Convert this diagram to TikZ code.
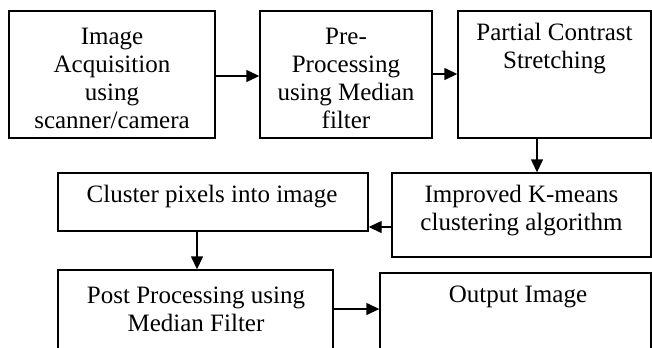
\documentclass[tikz,border=0pt]{standalone}
\usepackage{fontspec}
\setmainfont{Liberation Serif}
\usetikzlibrary{arrows.meta}
\begin{document}
\begin{tikzpicture}[x=1bp,y=-1bp,
  box/.style={draw=black,line width=1.4bp,inner sep=0pt,align=center,
    font=\fontsize{25bp}{28bp}\selectfont},
  txt/.style={inner sep=0pt,align=center,font=\fontsize{25bp}{28bp}\selectfont},
  arr/.style={line width=1.4bp,-{Triangle[length=13bp,width=12bp]}}]
\useasboundingbox (0,0) rectangle (652,347);
\clip (0,0) rectangle (652,347);
\node[box,minimum width=206bp,minimum height=127bp] (b1) at (112,74.5) {};
\node[txt] (t1) at (112,78.5) {Image\\Acquisition\\using\\scanner/camera};
\node[box,minimum width=172bp,minimum height=127bp] (b2) at (346,74.5) {};
\node[txt] (t2) at (346,78.5) {Pre-\\Processing\\using Median\\filter};
\node[box,minimum width=193bp,minimum height=127bp] (b3) at (554.5,74.5) {};
\node[txt] (t3) at (554.5,49) {Partial Contrast\\Stretching};
\node[box,minimum width=259bp,minimum height=84bp] (b4) at (521.5,215) {};
\node[txt] (t4) at (521.5,211) {Improved K-means\\clustering algorithm};
\node[box,minimum width=310bp,minimum height=58bp] (b5) at (213,202) {};
\node[txt] (t5) at (212,197) {Cluster pixels into image};
\node[box,minimum width=275bp,minimum height=100bp] (b6) at (195.5,320) {};
\node[txt] (t6) at (196,309) {Post Processing using\\Median Filter};
\node[box,minimum width=271bp,minimum height=100bp] (b7) at (515.5,323) {};
\node[txt] (t7) at (518,297) {Output Image};
\draw[arr] ([yshift=-1.5bp]b1.east) -- ([yshift=-1.5bp]b2.west);
\draw[arr] ([yshift=0.5bp]b2.east) -- ([yshift=0.5bp]b3.west);
\draw[arr] ([xshift=-17.5bp]b3.south) -- ([xshift=-17.5bp]b3.south |- b4.north);
\draw[arr] ([yshift=-12bp]b4.west) -- ([yshift=-12bp]b4.west -| b5.east);
\draw[arr] ([xshift=-16bp]b5.south) -- ([xshift=-16bp]b5.south |- b6.north);
\draw[arr] (b6.east |- 0,309) -- (b7.west |- 0,309);
\end{tikzpicture}
\end{document}
